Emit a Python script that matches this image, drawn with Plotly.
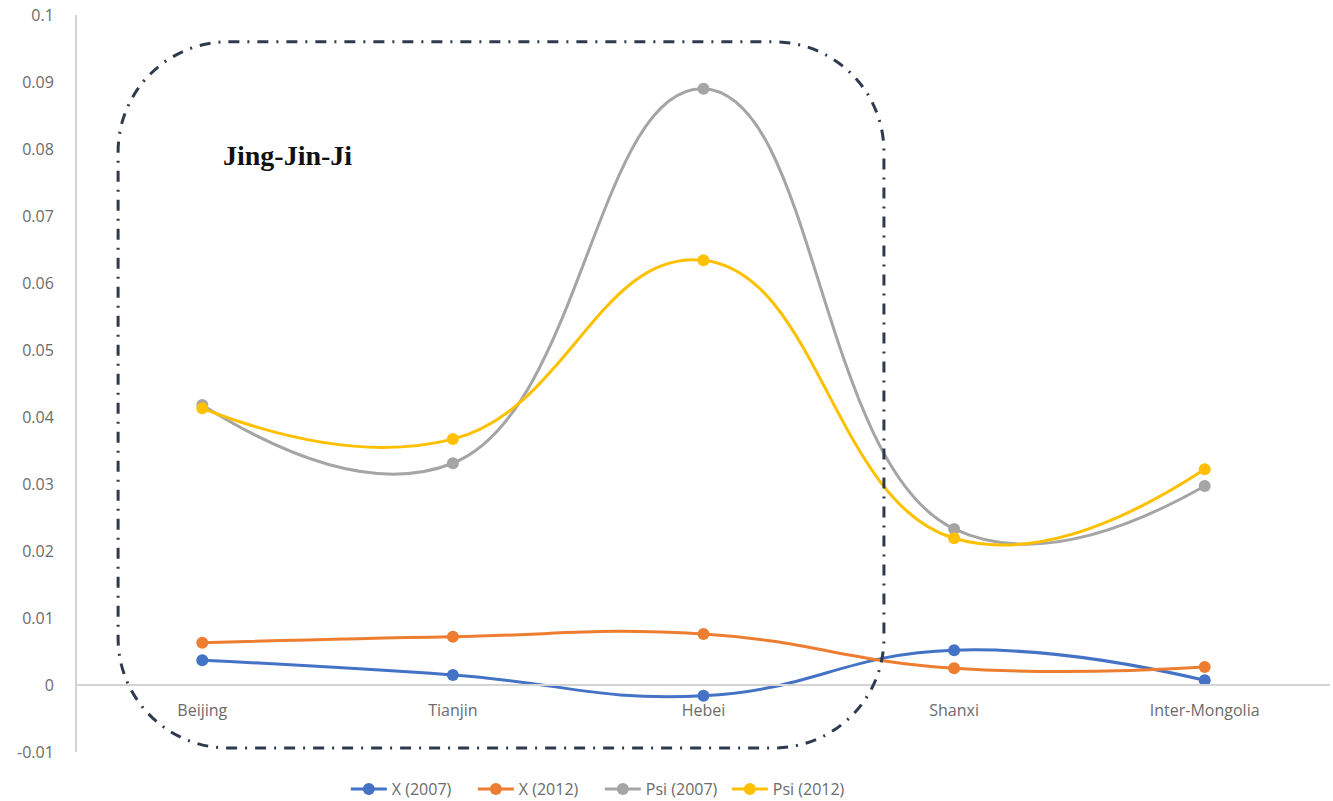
import plotly.graph_objects as go

# Regions along the x axis
regions = ["Beijing", "Tianjin", "Hebei", "Shanxi", "Inter-Mongolia"]

# Series values per region
x_2007 = [0.0037, 0.0015, -0.0016, 0.0052, 0.0007]
x_2012 = [0.0063, 0.0072, 0.0076, 0.0025, 0.0027]
psi_2007 = [0.0418, 0.0331, 0.0890, 0.0233, 0.0297]
psi_2012 = [0.0413, 0.0367, 0.0634, 0.0219, 0.0322]

# Y axis ticks
y_ticks = [-0.01, 0, 0.01, 0.02, 0.03, 0.04, 0.05, 0.06, 0.07, 0.08, 0.09, 0.1]
y_tick_text = ["-0.01", "0", "0.01", "0.02", "0.03", "0.04", "0.05", "0.06",
               "0.07", "0.08", "0.09", "0.1"]
y_range = [-0.01, 0.1]

series = [
    ("X (2007)", x_2007, "#4472C4"),
    ("X (2012)", x_2012, "#ED7D31"),
    ("Psi (2007)", psi_2007, "#A5A5A5"),
    ("Psi (2012)", psi_2012, "#FFC000"),
]

positions = list(range(len(regions)))

fig = go.Figure()
for name, vals, color in series:
    fig.add_trace(go.Scatter(
        x=positions, y=vals, name=name,
        mode="lines+markers",
        line=dict(color=color, width=3, shape="spline", smoothing=1.3),
        marker=dict(color=color, size=12),
    ))

# Rounded dash-dot outline around the Jing-Jin-Ji group (data units)
box_x0, box_x1 = -0.336, 2.720
box_y0, box_y1 = -0.0094, 0.0960
rx, ry = 0.44, 0.0164
k = 0.5523


def rounded_rect_path(x0, x1, y0, y1, rx, ry):
    return (
        f"M {x0 + rx},{y1} L {x1 - rx},{y1} "
        f"C {x1 - rx + k * rx},{y1} {x1},{y1 - ry + k * ry} {x1},{y1 - ry} "
        f"L {x1},{y0 + ry} "
        f"C {x1},{y0 + ry - k * ry} {x1 - rx + k * rx},{y0} {x1 - rx},{y0} "
        f"L {x0 + rx},{y0} "
        f"C {x0 + rx - k * rx},{y0} {x0},{y0 + ry - k * ry} {x0},{y0 + ry} "
        f"L {x0},{y1 - ry} "
        f"C {x0},{y1 - ry + k * ry} {x0 + rx - k * rx},{y1} {x0 + rx},{y1} Z"
    )


fig.add_shape(
    type="path", xref="x", yref="y",
    path=rounded_rect_path(box_x0, box_x1, box_y0, box_y1, rx, ry),
    line=dict(color="#2E3B4E", width=3, dash="11px,8px,2px,8px"),
    fillcolor="rgba(0,0,0,0)",
    layer="above",
)

fig.add_annotation(
    x=0.34, y=0.0790, xref="x", yref="y",
    text="<b>Jing-Jin-Ji</b>", showarrow=False,
    font=dict(family="Liberation Serif", size=28, color="#111111"),
)

# x axis sits on the zero line
zero_pos = (0 - y_range[0]) / (y_range[1] - y_range[0])

tick_font = dict(family="Open Sans", size=16, color="#6B6B6B")

fig.update_layout(
    width=1333, height=801,
    margin=dict(l=77, r=3, t=15, b=49, autoexpand=False),
    paper_bgcolor="white", plot_bgcolor="white",
    showlegend=True,
    legend=dict(
        orientation="h",
        xref="container", x=0.45, xanchor="center",
        yref="container", y=0.015, yanchor="middle",
        font=dict(family="Open Sans", size=16, color="#6B6B6B"),
        itemwidth=36, entrywidth=76, entrywidthmode="pixels",
    ),
    xaxis=dict(
        range=[-0.5, len(regions) - 0.5],
        tickvals=positions, ticktext=regions,
        showgrid=False, zeroline=False,
        showline=True, linecolor="#D4D4D4", linewidth=2,
        anchor="free", position=zero_pos,
        ticks="", ticklabelstandoff=11,
        tickfont=tick_font,
    ),
    yaxis=dict(
        range=y_range,
        tickvals=y_ticks, ticktext=y_tick_text,
        showgrid=False, zeroline=False,
        showline=True, linecolor="#D4D4D4", linewidth=2,
        ticks="", ticklabelstandoff=18,
        tickfont=tick_font,
    ),
)

fig.write_html("out.html")
